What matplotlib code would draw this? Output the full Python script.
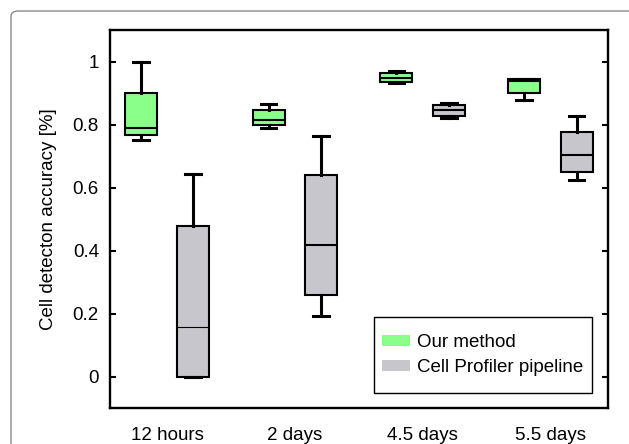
import numpy as np
import matplotlib
matplotlib.use('Agg')
import matplotlib.pyplot as plt
from matplotlib.patches import Patch, Rectangle, FancyBboxPatch

plt.rcParams['font.family'] = ['Liberation Sans', 'DejaVu Sans']

# datos
groups = ['12 hours', '2 days', '4.5 days', '5.5 days']
series = ['Our method', 'Cell Profiler pipeline']

# (whislo, q1, med, q3, whishi) por grupo
ours = [
    (0.750, 0.768, 0.790, 0.900, 1.000),
    (0.790, 0.798, 0.815, 0.845, 0.866),
    (0.931, 0.934, 0.948, 0.963, 0.969),
    (0.877, 0.900, 0.938, 0.943, 0.943),
]
cellprof = [
    (0.000, 0.000, 0.156, 0.478, 0.642),
    (0.193, 0.258, 0.417, 0.639, 0.765),
    (0.822, 0.827, 0.845, 0.862, 0.868),
    (0.623, 0.649, 0.702, 0.776, 0.826),
]
yticks = [0, 0.2, 0.4, 0.6, 0.8, 1]
yticklabels = ['0', '0.2', '0.4', '0.6', '0.8', '1']

green = '#8aff8a'
grey = '#c6c6cc'
fs = 13.5


def stats(rows):
    out = []
    for lo, q1, med, q3, hi in rows:
        out.append(dict(whislo=lo, q1=q1, med=med, q3=q3, whishi=hi, fliers=[]))
    return out


fig = plt.figure(figsize=(6.29, 4.44), dpi=100)
ax = fig.add_axes([110/629, 36/444, 498/629, 378/444])

# marco redondeado de fondo
frame = FancyBboxPatch((11/629, -0.2), 1.2, 0.2 + 433/444,
                       boxstyle='round,pad=0,rounding_size=0.012',
                       transform=fig.transFigure, fill=False,
                       edgecolor='#8a8a8a', lw=1.0, zorder=0)
fig.add_artist(frame)

pos = np.arange(1, len(groups) + 1)
off = 0.205
for rows, color, shift in [(ours, green, -off), (cellprof, grey, off)]:
    bp = ax.bxp(stats(rows), positions=pos + shift, widths=0.25,
                patch_artist=True, showfliers=False, capwidths=0.122,
                boxprops=dict(facecolor=color, edgecolor='black', linewidth=1.5),
                whiskerprops=dict(color='black', linewidth=2.2),
                capprops=dict(color='black', linewidth=2.2),
                medianprops=dict(color='black', linewidth=1.5))
    if color == grey:
        bp['medians'][0].set_linewidth(0.8)

ax.set_xlim(0.554, 4.45)
ax.set_ylim(-0.1, 1.1)
ax.set_xticks(pos, groups, fontsize=fs)
ax.set_yticks(yticks, yticklabels, fontsize=fs)
ax.tick_params(axis='x', length=0, pad=14)
ax.tick_params(axis='y', direction='in', length=4, width=1.5, right=True, pad=8)
for s in ax.spines.values():
    s.set_linewidth(1.7)

ax.set_ylabel('Cell detecton accuracy [%]', fontsize=fs)
ax.yaxis.set_label_coords(-0.106, 0.5)

# leyenda
ax.add_patch(Rectangle((0.530, 0.0397), 0.438, 0.201, transform=ax.transAxes,
                       fill=True, facecolor='white', edgecolor='black',
                       lw=1.0, zorder=5))
handles = [Patch(facecolor=green, edgecolor='none'),
           Patch(facecolor=grey, edgecolor='none')]
leg = ax.legend(handles, series, loc='center', bbox_to_anchor=(0.749, 0.140),
                frameon=False, fontsize=fs, borderpad=0, handlelength=1.5,
                handleheight=0.56, handletextpad=0.37, labelspacing=0.42)
leg.set_zorder(6)

fig.savefig('out.png', dpi=100)
